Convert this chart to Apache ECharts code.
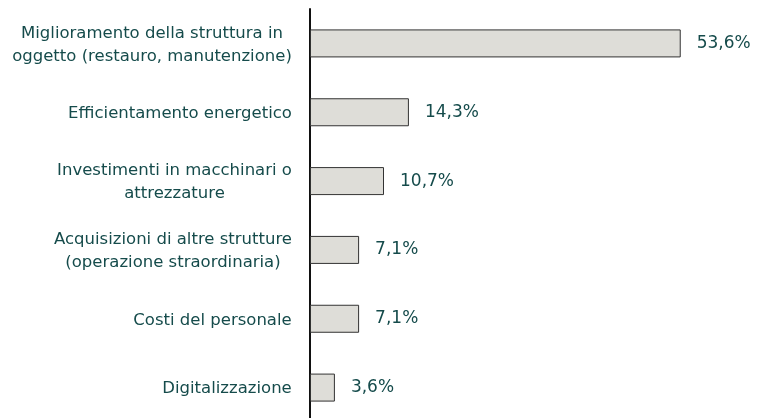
<!DOCTYPE html>
<html>
<head>
<meta charset="utf-8">
<script src="https://cdn.jsdelivr.net/npm/echarts@6/dist/echarts.min.js"></script>
<style>
  html, body { margin: 0; padding: 0; background: #fff; overflow: hidden; }
  /* axis runs past the bottom edge in the reference, so the canvas is a bit taller than the window */
  #chart { width: 758px; height: 424px; }
</style>
</head>
<body>
<div id="chart"></div>
<script>
// categories top to bottom
var categories = [
  'Miglioramento della struttura in\noggetto (restauro, manutenzione)',
  'Efficientamento energetico',
  'Investimenti in macchinari o\nattrezzature',
  'Acquisizioni di altre strutture\n(operazione straordinaria)',
  'Costi del personale',
  'Digitalizzazione'
];
var values = [53.6, 14.3, 10.7, 7.1, 7.1, 3.6];

var textColor = '#154b4b';
var fontName = 'DejaVu Sans';
var labelSize = 16.5;

// multi-line labels are centred inside a right-aligned block
var ctx = document.createElement('canvas').getContext('2d');
ctx.font = labelSize + 'px "' + fontName + '"';
var rich = {};
categories.forEach(function (c, i) {
  var w = 0;
  c.split('\n').forEach(function (l) { w = Math.max(w, Math.ceil(ctx.measureText(l).width)); });
  rich['c' + i] = { width: w, align: 'center', color: textColor, fontFamily: fontName, fontSize: labelSize, lineHeight: 23, padding: [3, 0, 0, 0] };
});

var myChart = echarts.init(document.getElementById('chart'));
var option = {
  animation: false,
  grid: { left: 310, top: 9, width: 415, height: 413 },
  xAxis: {
    type: 'value',
    min: 0,
    max: 60,
    show: false
  },
  yAxis: {
    type: 'category',
    inverse: true,
    data: categories,
    axisLine: { show: true, lineStyle: { color: '#111', width: 2 } },
    axisTick: { show: false },
    axisLabel: {
      color: textColor,
      fontFamily: fontName,
      fontSize: labelSize,
      lineHeight: 23,
      margin: 18,
      align: 'right',
      rich: rich,
      formatter: function (v, i) {
        return v.split('\n').map(function (l) { return '{c' + i + '|' + l + '}'; }).join('\n');
      }
    }
  },
  series: [{
    type: 'bar',
    data: values,
    barWidth: 28,
    itemStyle: { color: '#deddd8', borderColor: '#333', borderWidth: 1 },
    label: {
      show: true,
      position: 'right',
      distance: 16,
      color: textColor,
      fontFamily: fontName,
      fontSize: 17,
      formatter: function (p) { return p.value.toFixed(1).replace('.', ',') + '%'; }
    }
  }]
};
myChart.setOption(option);
</script>
</body>
</html>
